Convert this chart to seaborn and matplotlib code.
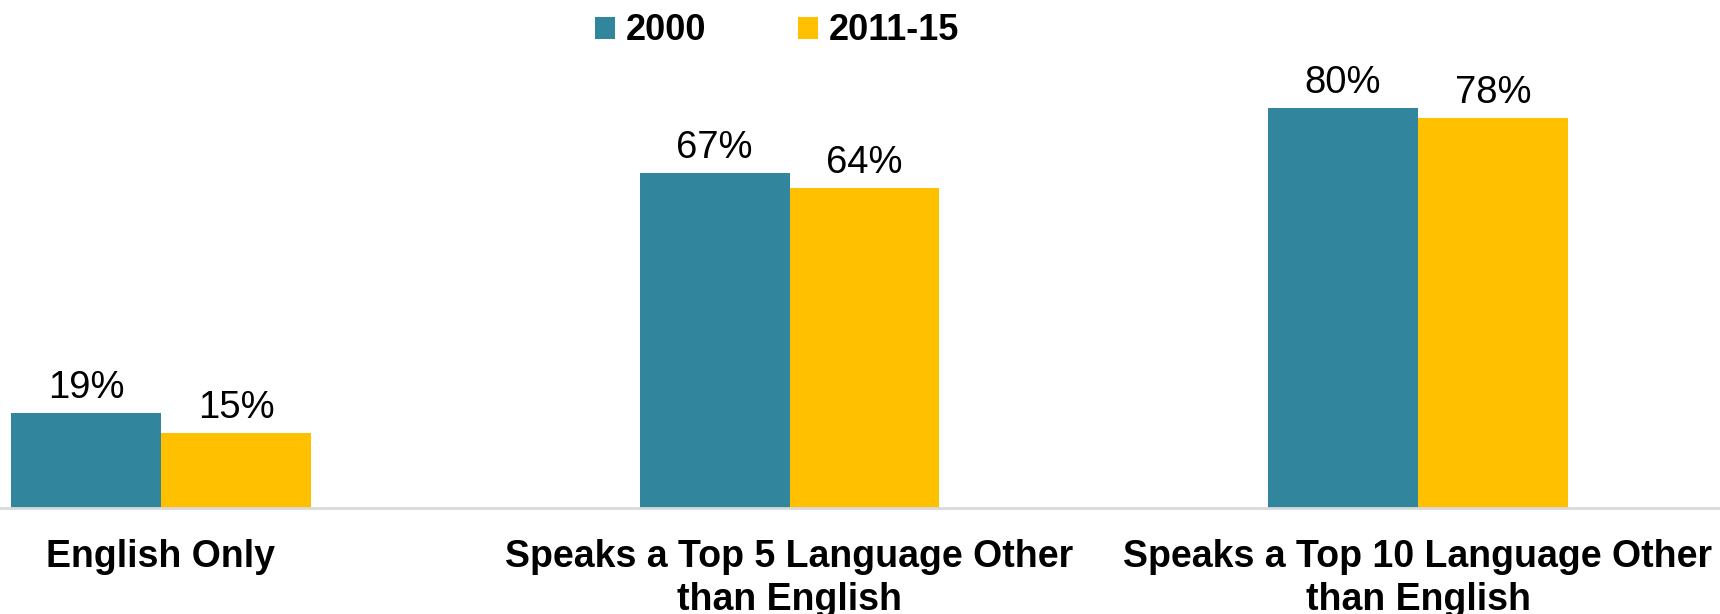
import matplotlib
matplotlib.use("Agg")
import matplotlib.pyplot as plt
import seaborn as sns
import pandas as pd
from matplotlib.patches import Patch

sns.set_theme(style="white")
plt.rcParams['font.family'] = ['Liberation Sans', 'DejaVu Sans']
plt.rcParams['text.color'] = 'black'
plt.rcParams['xtick.color'] = 'black'

# data
categories = ["English Only",
              "Speaks a Top 5 Language Other\nthan English",
              "Speaks a Top 10 Language Other\nthan English"]
years = ["2000", "2011-15"]
values_2000 = [19, 67, 80]
values_2015 = [15, 64, 78]
colors = ["#31859C", "#FFC000"]

df = pd.DataFrame({
    "category": categories * 2,
    "year": [years[0]] * 3 + [years[1]] * 3,
    "value": values_2000 + values_2015,
})

fig = plt.figure(figsize=(17.2, 6.14), dpi=100)
ax = fig.add_axes([0, (614 - 508) / 614, 1, 500 / 614])

sns.barplot(data=df, x="category", y="value", hue="year", palette=colors,
            width=0.477, gap=0, saturation=1, ax=ax, legend=False,
            edgecolor="none")

for cont in ax.containers:
    ax.bar_label(cont, labels=[f"{v:.0f}%" for v in cont.datavalues],
                 padding=5, fontsize=27.5, color="black")

ax.set_xlim(-161 / 628.5, (1720 - 161) / 628.5)
ax.set_ylim(0, 100)
ax.set_xlabel("")
ax.set_ylabel("")
ax.set_yticks([])
ax.tick_params(axis="x", length=0, pad=22, labelsize=27, labelcolor="black")
for lab in ax.get_xticklabels():
    lab.set_fontweight("bold")
    lab.set_linespacing(1.28)
for side in ["top", "left", "right"]:
    ax.spines[side].set_visible(False)
ax.spines["bottom"].set_color("#D9D9D9")
ax.spines["bottom"].set_linewidth(2)

handles = [Patch(facecolor=c, edgecolor="none") for c in colors]
leg = fig.legend(handles, years, loc="center", bbox_to_anchor=(777 / 1720, 1 - 31 / 614),
                 ncol=2, frameon=False, handlelength=0.55, handleheight=0.55,
                 handletextpad=0.3, columnspacing=2.55,
                 prop={"size": 26, "weight": "bold"})

fig.savefig("out.png", dpi=100)
